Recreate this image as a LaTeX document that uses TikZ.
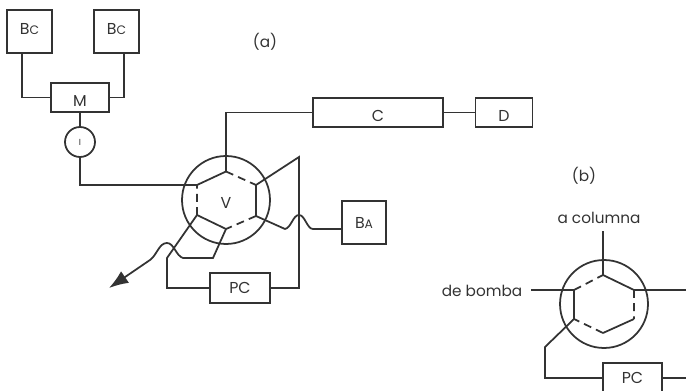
\documentclass[tikz,border=0pt]{standalone}
\usepackage{fontspec}
\setmainfont{Poppins}
\usetikzlibrary{positioning,arrows.meta,calc}
\definecolor{ink}{HTML}{333333}
\tikzset{
  unit/.style={draw=ink,line width=1pt,text=ink,inner sep=0pt,font=\fontsize{9}{11}\selectfont},
  lowlabel/.style={text height=10pt,text depth=0pt},
  valve/.style={draw=ink,line width=1pt,circle,minimum size=1.76cm,inner sep=0pt},
  label/.style={text=ink,font=\fontsize{8.7}{11}\selectfont},
  pipe/.style={draw=ink,line width=1pt,line join=miter},
  loopdash/.style={pipe,dash pattern=on 4.5pt off 3pt}
}
\newcommand{\subsm}[1]{{\fontsize{7}{8}\selectfont #1}}
\begin{document}
\begin{tikzpicture}[x=.02cm,y=-.02cm]
  \useasboundingbox (0,0) rectangle (686,391);
  % (a)
  \node[label] (lbla) at (265,42){(a)};
  \node[unit,minimum width=.9cm,minimum height=.86cm] (bcleft) at (29.5,31.5){\raisebox{3.4pt}{B\subsm{C}}};
  \node[unit,minimum width=.9cm,minimum height=.86cm] (bcright) at (116.5,31.5){\raisebox{3.4pt}{B\subsm{C}}};
  \node[unit,lowlabel,minimum width=1.16cm,minimum height=.58cm] (mixer) at (80,97.5){M};
  \node[unit,circle,minimum size=.6cm,font=\fontsize{5}{6}\selectfont] (inj) at (80,142){I};
  \node[unit,lowlabel,minimum width=2.6cm,minimum height=.58cm] (colC) at (378,112.5){C};
  \node[unit,lowlabel,minimum width=1.14cm,minimum height=.58cm] (detD) at (504,112.5){D};
  \node[unit,minimum width=.88cm,minimum height=.86cm] (bombaA) at (364,222.5){B\subsm{A}};
  \node[unit,minimum width=1.2cm,minimum height=.6cm] (pcA) at (240,288){PC};
  \node[valve] (va) at (226,200){};
  \node[text=ink,font=\fontsize{9}{11}\selectfont] (vlab) at (226,203){V};
  \coordinate (at) at (226,171.5);
  \coordinate (aur) at (256,185);
  \coordinate (alr) at (256,216);
  \coordinate (ab) at (226,229);
  \coordinate (all) at (197,215);
  \coordinate (aul) at (197,185);
  \draw[pipe] (aul) -- (at) (aur) -- (alr) (ab) -- (all);
  \draw[loopdash] (at) -- (aur) (alr) -- (ab) (all) -- (aul);
  \draw[pipe] (bcleft.south -| 22,0) |- (mixer.west);
  \draw[pipe] (bcright.south -| 124,0) |- (mixer.east);
  \draw[pipe] (mixer) -- (inj);
  \draw[pipe] (inj.south) |- (aul);
  \draw[pipe] (at) -- (226,112.5) -- (colC.west);
  \draw[pipe] (colC) -- (detD);
  \draw[pipe] (aur) -- (299,157) -- (299,288) -- (pcA.east);
  \draw[pipe] (pcA.west) -- (167,288) -- (167,258) -- (all);
  \draw[pipe] (alr) -- (285,229) .. controls (291,228) and (293,215) .. (299,215) .. controls (305,215) and (307,229) .. (313,229) -- (bombaA.west |- 0,229);
  \coordinate (waste) at (109,288);
  \draw[pipe,-{Latex[length=11pt,width=8pt]}] (ab) -- (213,258) -- (183,258) .. controls (176,256) and (174,243) .. (167,243) .. controls (159,243) and (157,255) .. (150,260) -- (waste);
  % (b)
  \node[label] (lblb) at (584,176){(b)};
  \node[label] (lblcol) at (599,218){a columna};
  \node[label] (lblbom) at (482,291){de bomba};
  \node[unit,minimum width=1.18cm,minimum height=.6cm] (pcB) at (632.5,378){PC};
  \node[valve] (vb) at (604,304){};
  \coordinate (bt) at (603,275);
  \coordinate (bur) at (634,290);
  \coordinate (blr) at (634,319);
  \coordinate (bb) at (603,333);
  \coordinate (bll) at (574,319);
  \coordinate (bul) at (574,290);
  \draw[pipe] (bt) -- (bur) (blr) -- (bb) (bll) -- (bul);
  \draw[loopdash] (bur) -- (blr) (bb) -- (bll) (bul) -- (bt);
  \draw[pipe] (bt) -- (603,231);
  \draw[pipe] (bul) -- (531,290);
  \draw[pipe] (bur) -- (686,290);
  \draw[pipe] (bll) -- (545,347) -- (545,378) -- (pcB.west);
  \draw[pipe] (pcB.east) -- (686,378);
\end{tikzpicture}
\end{document}
